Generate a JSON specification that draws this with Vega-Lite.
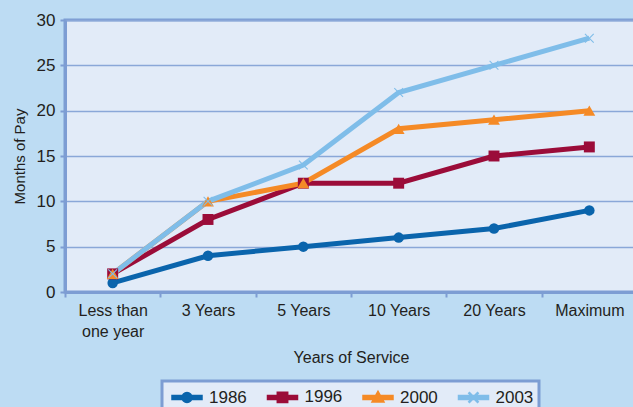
{
  "$schema": "https://vega.github.io/schema/vega-lite/v6.json",
  "width": 572,
  "height": 272,
  "autosize": {"type": "none"},
  "padding": {"left": 65, "top": 20, "right": -4, "bottom": 115},
  "background": "#bddcf3",
  "config": {
    "font": "Liberation Sans",
    "view": {"fill": "#e2ebf8", "stroke": "#7d9dd3", "strokeWidth": 3},
    "axis": {
      "labelFont": "Liberation Sans",
      "titleFont": "Liberation Sans",
      "labelColor": "#231f20",
      "titleColor": "#231f20",
      "titleFontWeight": "normal",
      "domainColor": "#7d9dd3",
      "domainWidth": 3,
      "tickColor": "#7d9dd3",
      "tickWidth": 2
    }
  },
  "data": {
    "values": [
      {"service": "Less than one year", "year": "1986", "months": 1},
      {"service": "3 Years", "year": "1986", "months": 4},
      {"service": "5 Years", "year": "1986", "months": 5},
      {"service": "10 Years", "year": "1986", "months": 6},
      {"service": "20 Years", "year": "1986", "months": 7},
      {"service": "Maximum", "year": "1986", "months": 9},
      {"service": "Less than one year", "year": "1996", "months": 2},
      {"service": "3 Years", "year": "1996", "months": 8},
      {"service": "5 Years", "year": "1996", "months": 12},
      {"service": "10 Years", "year": "1996", "months": 12},
      {"service": "20 Years", "year": "1996", "months": 15},
      {"service": "Maximum", "year": "1996", "months": 16},
      {"service": "Less than one year", "year": "2000", "months": 2},
      {"service": "3 Years", "year": "2000", "months": 10},
      {"service": "5 Years", "year": "2000", "months": 12},
      {"service": "10 Years", "year": "2000", "months": 18},
      {"service": "20 Years", "year": "2000", "months": 19},
      {"service": "Maximum", "year": "2000", "months": 20},
      {"service": "Less than one year", "year": "2003", "months": 2},
      {"service": "3 Years", "year": "2003", "months": 10},
      {"service": "5 Years", "year": "2003", "months": 14},
      {"service": "10 Years", "year": "2003", "months": 22},
      {"service": "20 Years", "year": "2003", "months": 25},
      {"service": "Maximum", "year": "2003", "months": 28}
    ]
  },
  "encoding": {
    "x": {
      "field": "service",
      "type": "nominal",
      "sort": ["Less than one year", "3 Years", "5 Years", "10 Years", "20 Years", "Maximum"],
      "scale": {"paddingInner": 0, "paddingOuter": 0},
      "axis": {
        "title": "Years of Service",
        "titleFontSize": 16,
        "titlePadding": 10,
        "labelFontSize": 16,
        "labelAngle": 0,
        "labelPadding": 5,
        "labelLineHeight": 21,
        "labelExpr": "datum.label == 'Less than one year' ? ['Less than', 'one year'] : datum.label",
        "tickBand": "extent",
        "tickSize": 5,
        "grid": false
      }
    },
    "y": {
      "field": "months",
      "type": "quantitative",
      "scale": {"domain": [0, 30], "nice": false},
      "axis": {
        "title": "Months of Pay",
        "titleFontSize": 15,
        "titlePadding": 9,
        "labelFontSize": 17,
        "labelPadding": 5,
        "tickSize": 5,
        "values": [0, 5, 10, 15, 20, 25, 30],
        "gridColor": "#8aa7d8",
        "gridWidth": 1.5
      }
    },
    "color": {
      "field": "year",
      "type": "nominal",
      "scale": {
        "domain": ["1986", "1996", "2000", "2003"],
        "range": ["#0a64ac", "#9b0c39", "#f58a26", "#7fbde9"]
      },
      "legend": {
        "title": null,
        "orient": "none",
        "direction": "horizontal",
        "legendX": 97,
        "legendY": 361,
        "fillColor": "#e2ebf8",
        "strokeColor": "#7d9dd3",
        "padding": 5,
        "symbolSize": 400,
        "symbolOffset": 9,
        "labelFontSize": 17,
        "labelColor": "#231f20",
        "labelOffset": 11,
        "columnPadding": 15.5,
        "encode": {
          "legend": {"update": {"strokeWidth": {"value": 3}}},
          "symbols": {
            "update": {
              "shape": {"signal": "datum.value == '1986' ? 'M-1.5,-0.2H1.5V0.2H-1.5Z M0.5,0A0.5,0.5,0,1,1,-0.5,0A0.5,0.5,0,1,1,0.5,0Z' : datum.value == '1996' ? 'M-1.5,-0.2H1.5V0.2H-1.5Z M-0.52,-0.52H0.52V0.52H-0.52Z' : datum.value == '2000' ? 'M-1.5,-0.2H1.5V0.2H-1.5Z M0,-0.62L0.6,0.45H-0.6Z' : 'M-1.5,-0.2H1.5V0.2H-1.5Z M-0.4,-0.5L0,-0.1L0.4,-0.5L0.48,-0.42L0.08,0L0.48,0.42L0.4,0.5L0,0.1L-0.4,0.5L-0.48,0.42L-0.08,0L-0.48,-0.42Z'"},
              "fill": {"signal": "scale('color', datum.value)"},
              "stroke": {"value": "transparent"},
              "opacity": {"value": 1}
            }
          }
        }
      }
    }
  },
  "layer": [
    {"mark": {"type": "line", "strokeWidth": 5}},
    {
      "transform": [{"filter": "datum.year == '1986'"}],
      "mark": {"type": "point", "shape": "circle", "filled": true, "opacity": 1, "size": 110}
    },
    {
      "transform": [{"filter": "datum.year == '1996'"}],
      "mark": {"type": "point", "shape": "square", "filled": true, "opacity": 1, "size": 120}
    },
    {
      "transform": [{"filter": "datum.year == '2000'"}],
      "mark": {"type": "point", "shape": "triangle-up", "filled": true, "opacity": 1, "size": 140}
    },
    {
      "transform": [{"filter": "datum.year == '2003'"}],
      "mark": {
        "type": "point",
        "shape": "M-0.8,-0.95L0,-0.15L0.8,-0.95L0.95,-0.8L0.15,0L0.95,0.8L0.8,0.95L0,0.15L-0.8,0.95L-0.95,0.8L-0.15,0L-0.95,-0.8Z",
        "filled": true,
        "opacity": 1,
        "size": 100
      }
    }
  ]
}
